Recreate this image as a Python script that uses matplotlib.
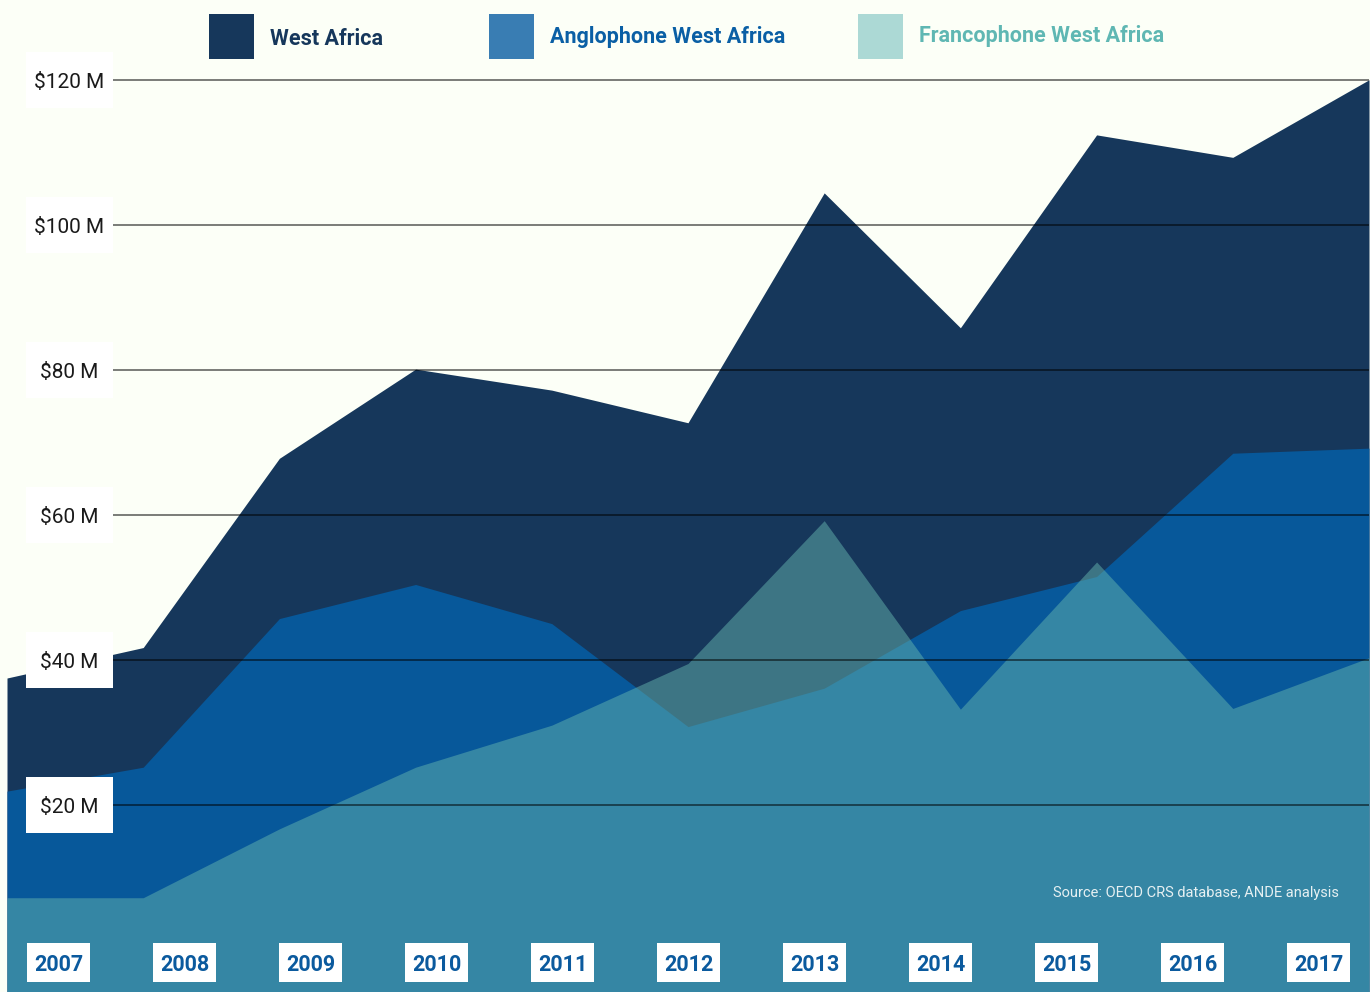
import matplotlib
matplotlib.use('Agg')
import matplotlib.pyplot as plt
from matplotlib.patches import Rectangle

# Data (US$ millions)
years = ['2007', '2008', '2009', '2010', '2011', '2012', '2013', '2014', '2015', '2016', '2017']
west_africa = [37.5, 41.7, 67.8, 80.1, 77.2, 72.7, 104.4, 85.8, 112.4, 109.3, 120.0]
anglophone = [21.9, 25.2, 45.7, 50.4, 45.0, 30.8, 36.1, 46.8, 51.5, 68.5, 69.2]
francophone = [7.2, 7.2, 16.7, 25.2, 31.0, 39.5, 59.2, 33.2, 53.5, 33.3, 40.3]
y_ticks = [20, 40, 60, 80, 100, 120]
y_labels = ['$20 M', '$40 M', '$60 M', '$80 M', '$100 M', '$120 M']
series_names = ['West Africa', 'Anglophone West Africa', 'Francophone West Africa']

bg = '#fcfff7'
navy = '#16375b'
blue = '#07589a'
teal = '#64b4ae'

plt.rcParams['font.family'] = ['Roboto', 'DejaVu Sans']

W, H = 1370, 992
fig = plt.figure(figsize=(W / 100, H / 100), dpi=100, facecolor=bg)
ax = fig.add_axes([7 / W, 0, 1362 / W, 1])
ax.set_facecolor(bg)

x = list(range(len(years)))
ymin, ymax = -5.8, 131.0
ax.fill_between(x, ymin, west_africa, color=navy, lw=0, zorder=1)
ax.fill_between(x, ymin, anglophone, color=blue, lw=0, zorder=2)
ax.fill_between(x, ymin, francophone, color=teal, alpha=0.5, lw=0, zorder=3)
ax.set_xlim(0, len(years) - 1)
ax.set_ylim(ymin, ymax)
ax.axis('off')

# gridlines and y labels in white boxes
for v, lab in zip(y_ticks, y_labels):
    ax.axhline(v, xmin=106 / 1362, xmax=1, color='black', alpha=0.65, lw=1.1, zorder=4)
    box = Rectangle((19 / 1362, v - 3.85), 87 / 1362, 7.7, transform=ax.get_yaxis_transform(),
                    facecolor='white', edgecolor='none', zorder=5)
    ax.add_patch(box)
    ax.text(62 / 1362, v - 0.4, lab, transform=ax.get_yaxis_transform(), ha='center', va='center',
            fontsize=15, color='#1a1a1a', zorder=6)

# year labels along the bottom
for i, yr in enumerate(years):
    cx = 58.5 + 126 * i
    fig.patches.append(Rectangle(((cx - 31.5) / W, 1 - 982 / H), 63 / W, 39 / H,
                                 transform=fig.transFigure, facecolor='white', edgecolor='none', zorder=7))
    fig.text(cx / W, 1 - 965 / H, yr, ha='center', va='center', fontsize=15.5,
             fontweight='bold', color='#0b5a9e', zorder=8)

# legend
leg_patch_colors = [navy, '#397db3', '#acd9d5']
leg_text_colors = [navy, '#0a5fa5', '#5fb7b3']
leg_x = [209, 489, 858]
leg_y = [39, 37, 36]
for name, pc, tc, lx, ly in zip(series_names, leg_patch_colors, leg_text_colors, leg_x, leg_y):
    fig.patches.append(Rectangle((lx / W, 1 - 59 / H), 45 / W, 45 / H, transform=fig.transFigure,
                                 facecolor=pc, edgecolor='none'))
    fig.text((lx + 61) / W, 1 - ly / H, name, ha='left', va='center', fontsize=15.5,
             fontweight='bold', color=tc)

fig.text(1339 / W, 1 - 893 / H, 'Source: OECD CRS database, ANDE analysis', ha='right', va='center',
         fontsize=10.5, color='#e6f0f2')

fig.savefig('out.png', dpi=100, facecolor=bg)
